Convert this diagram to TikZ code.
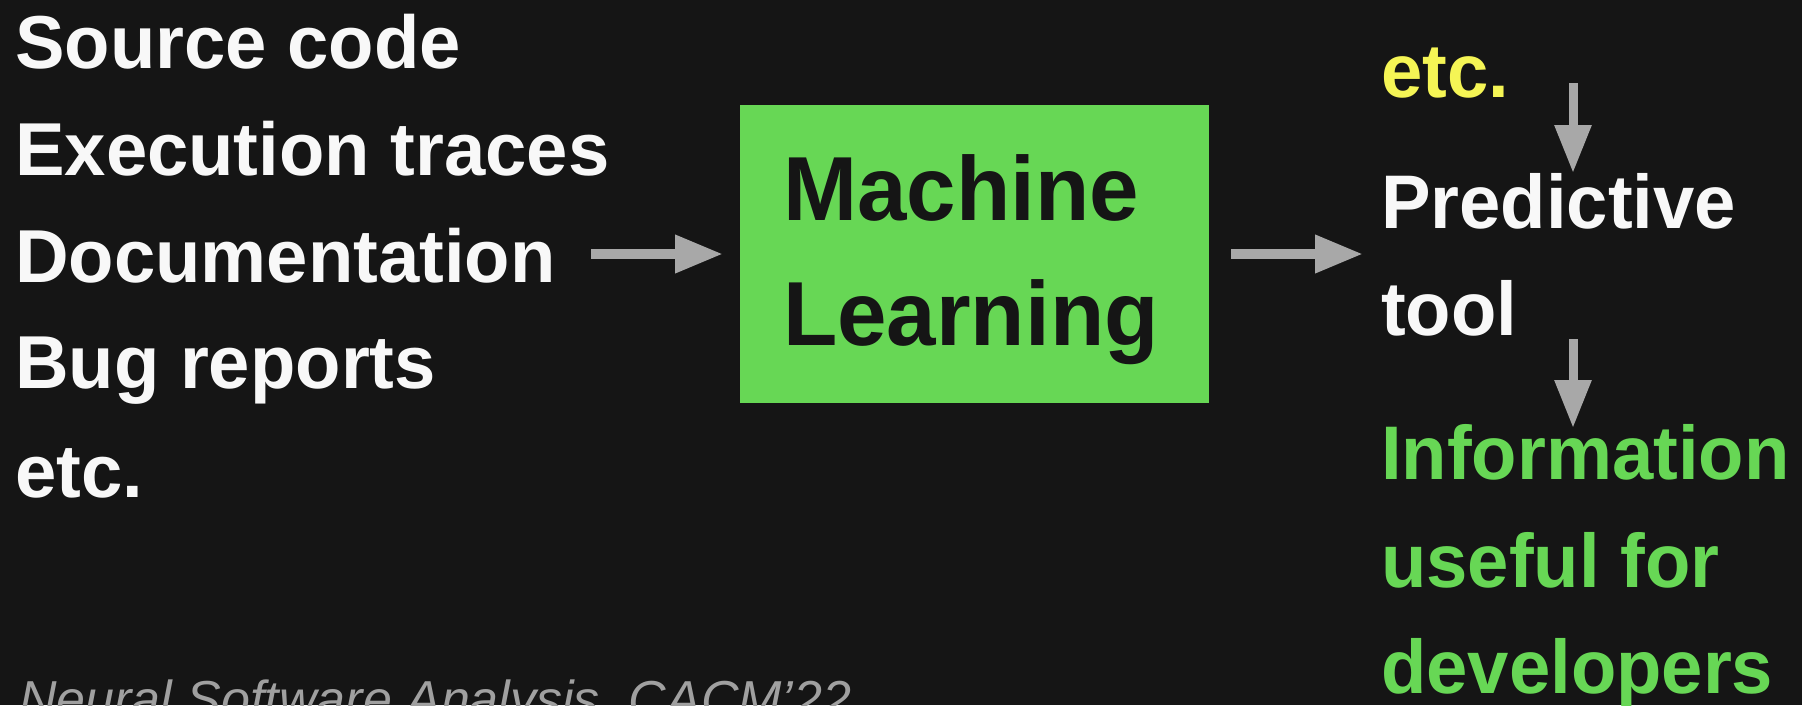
\documentclass[tikz,border=0pt]{standalone}
\usepackage{fontspec}
\setmainfont{Liberation Sans}
\newfontfamily\leftf[FakeStretch=0.99]{Liberation Sans}
\newfontfamily\rightf[FakeStretch=0.977]{Liberation Sans}
\usetikzlibrary{arrows.meta}
\definecolor{bg}{RGB}{21,21,21}
\definecolor{txtwhite}{RGB}{248,248,248}
\definecolor{mlgreen}{RGB}{103,215,85}
\definecolor{ylw}{RGB}{245,245,85}
\definecolor{arrgray}{RGB}{168,168,168}
\definecolor{citegray}{RGB}{160,160,160}
\tikzset{
  lefttxt/.style={anchor=base west, inner sep=0pt, text=txtwhite, font=\leftf\bfseries\fontsize{75pt}{90pt}\selectfont},
  righttxt/.style={anchor=base west, inner sep=0pt, text=txtwhite, font=\rightf\bfseries\fontsize{76pt}{90pt}\selectfont},
  mltxt/.style={anchor=base west, inner sep=0pt, text=bg, font=\rightf\bfseries\fontsize{91pt}{110pt}\selectfont},
  mlbox/.style={rectangle, fill=mlgreen, draw=none, minimum width=469pt, minimum height=298pt, inner sep=0pt},
  harr/.style={draw=arrgray, line width=10pt, -{Triangle[length=48pt,width=36pt]}},
  varr/.style={draw=arrgray, line width=9pt, -{Triangle[length=48pt,width=35pt]}},
}
\begin{document}
\begin{tikzpicture}[x=1pt,y=-1pt]
\fill[bg] (0,0) rectangle (1802,705);
\useasboundingbox (0,0) rectangle (1802,705);
% left column
\node[lefttxt] (src) at (15,68) {Source code};
\node[lefttxt] (exe) at (15,175) {Execution traces};
\node[lefttxt] (doc) at (15,282) {Documentation};
\node[lefttxt] (bug) at (15,388) {Bug reports};
\node[lefttxt] (etcl) at (15,497) {etc.};
% box
\node[mlbox] (ml) at (974.5,254) {};
\node[mltxt] (mach) at (783,220) {Machine};
\node[mltxt] (learn) at (783,345) {Learning};
% right column
\node[righttxt, text=ylw] (etcr) at (1381,97) {etc.};
\node[righttxt] (pred) at (1381,228) {Predictive};
\node[righttxt] (tool) at (1381,335) {tool};
\node[righttxt, text=mlgreen] (info) at (1381,479) {Information};
\node[righttxt, text=mlgreen] (useful) at (1381,587) {useful for};
\node[righttxt, text=mlgreen] (dev) at (1381,693) {developers};
% citation
\node[anchor=base west, inner sep=0pt, text=citegray, font=\itshape\fontsize{52pt}{60pt}\selectfont] (cite) at (19,717) {Neural Software Analysis, CACM’22};
% connectors
\coordinate (a1s) at (591,254);
\coordinate (a1e) at (723,254);
\coordinate (a2s) at (1231,254);
\coordinate (a2e) at (1363,254);
\coordinate (d1s) at (1573,83);
\coordinate (d1e) at (1573,173);
\coordinate (d2s) at (1573,339);
\coordinate (d2e) at (1573,428);
\draw[harr] (a1s) -- (a1e);
\draw[harr] (a2s) -- (a2e);
\draw[varr] (d1s) -- (d1e);
\draw[varr] (d2s) -- (d2e);
\end{tikzpicture}
\end{document}
